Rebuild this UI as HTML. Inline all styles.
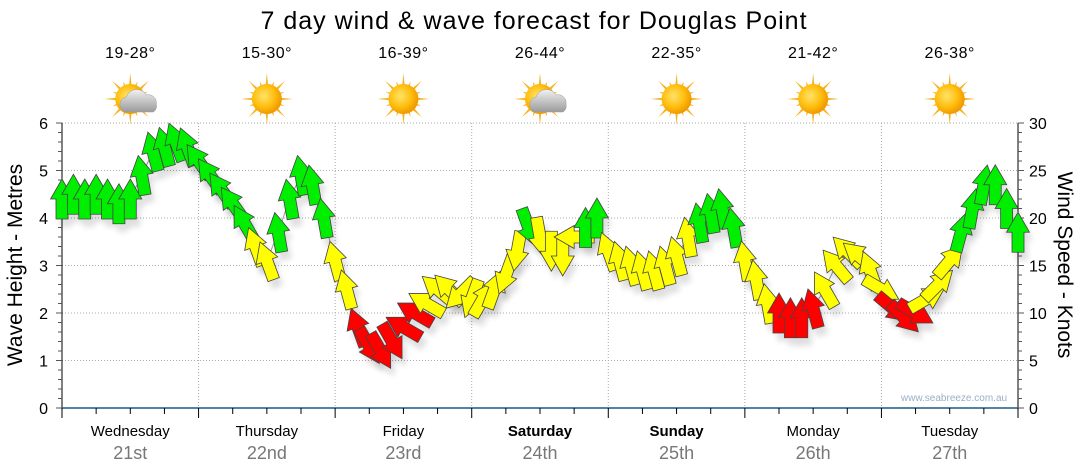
<!DOCTYPE html>
<html><head><meta charset="utf-8"><style>
body{margin:0;background:#fff;}
svg{display:block;font-family:"Liberation Sans",sans-serif;}
</style></head><body>
<svg id="chart" width="1080" height="475" viewBox="0 0 1080 475">
<defs>
<filter id="sh" x="-50%" y="-50%" width="200%" height="200%"><feGaussianBlur stdDeviation="3"/></filter>
<radialGradient id="sun" cx="40%" cy="40%" r="60%"><stop offset="0" stop-color="#ffe36a"/><stop offset="0.6" stop-color="#ffbf10"/><stop offset="1" stop-color="#f09a00"/></radialGradient>
<linearGradient id="cloud" x1="0" y1="0" x2="0" y2="1"><stop offset="0" stop-color="#f2f2f2"/><stop offset="1" stop-color="#9a9a9a"/></linearGradient>
</defs>
<text x="534" y="29" text-anchor="middle" font-size="25" letter-spacing="1" fill="#000">7 day wind &amp; wave forecast for Douglas Point</text>
<g id="grid"></g>
<g id="axes"></g>
<g id="icons"></g>
<g id="marks"></g>
<text x="954" y="401" text-anchor="middle" font-size="10" fill="#9ab0c4">www.seabreeze.com.au</text>
<text transform="translate(22,265) rotate(-90)" text-anchor="middle" font-size="21">Wave Height - Metres</text>
<text transform="translate(1058,265) rotate(90)" text-anchor="middle" font-size="21">Wind Speed - Knots</text>
</svg>
<script>
const days = ["Wednesday","Thursday","Friday","Saturday","Sunday","Monday","Tuesday"];
const dates = ["21st","22nd","23rd","24th","25th","26th","27th"];
const boldDays = [false,false,false,true,true,false,false];
const temps = ["19-28°","15-30°","16-39°","26-44°","22-35°","21-42°","26-38°"];
const cloudy = [true,false,false,true,false,false,false];
const waveTicks = [0,1,2,3,4,5,6];
const windTicks = [0,5,10,15,20,25,30];
const hours = [0,2,4,6,8,10,12,14,16,18,20,22,24,26,28,30,32,34,36,38,40,42,44,46,48,50,52,54,56,58,60,62,64,66,68,70,72,74,76,78,80,82,84,86,88,90,92,94,96,98,100,102,104,106,108,110,112,114,116,118,120,122,124,126,128,130,132,134,136,138,140,142,144,146,148,150,152,154,156,158,160,162,164,166,168];
const windSpeed = [22,22.5,22,22.5,22,21.5,22,24.5,27,27.5,28,27.5,26,24.5,23,21.5,19.5,17,15.5,18.5,22,24.5,23.5,20,15.5,12.5,8.5,6.5,6,7,8.5,10,11,12.5,12.5,12,11.5,11.5,12.5,14,16.5,19,18,16.5,16,18,19,20,16.5,15.5,15,14.5,14.5,15,16,18,19.5,20.5,21,19,15.5,13.5,11,10,9.5,9.5,10.5,12.5,15,16.5,16,14.5,12.5,10.5,9.5,10,11.5,13,15.5,18.5,21,23.5,23.5,21,18.5];
const windDir = [0,0,0,0,0,0,0,-10,-15,-15,-20,-20,-35,-35,-35,-35,-30,-20,-20,-10,-10,-10,-10,-10,-15,-15,-20,150,150,150,-60,-60,-60,-50,-45,225,200,30,20,200,190,160,170,180,180,270,0,0,-20,-15,-15,-15,-15,-15,-15,-10,-10,-10,-10,-10,-10,-10,-10,0,0,0,-15,-30,-40,-45,-50,-20,120,130,135,120,60,45,40,15,10,10,0,0,0];

const NS="http://www.w3.org/2000/svg";
const X0=62,X1=1018,Y0=408,Y1=123;
const xScale=h=>X0+(X1-X0)*h/168;
const waveY=v=>Y0-(Y0-Y1)*v/6;
const windY=v=>Y0-(Y0-Y1)*v/30;
function mk(tag,attrs,parent){const e=document.createElementNS(NS,tag);for(const k in attrs)e.setAttribute(k,attrs[k]);parent.appendChild(e);return e;}
const grid=document.getElementById('grid'),axes=document.getElementById('axes'),icons=document.getElementById('icons'),marks=document.getElementById('marks');

for(let i=1;i<waveTicks.length;i++){const y=waveY(waveTicks[i]);
 const g=mk('line',{x1:X0,x2:X1,y1:y,y2:y,stroke:'#aaa','stroke-dasharray':'1,2'},grid);
 
 }
for(let d=1;d<7;d++){const x=xScale(d*24);
 const g=mk('line',{x1:x,x2:x,y1:Y1,y2:Y0,stroke:'#aaa','stroke-dasharray':'1,2'},grid);
 
 }
mk('line',{x1:X0,x2:X0,y1:Y1,y2:Y0+1,stroke:'#000'},axes);
mk('line',{x1:X1,x2:X1,y1:Y1,y2:Y0+1,stroke:'#000'},axes);
mk('line',{x1:X0,x2:X1,y1:Y0,y2:Y0,stroke:'#1a5a86','stroke-width':1.5},axes);
for(let v=0;v<=30;v++){const y=Y0-(Y0-Y1)*v/30;
 mk('line',{x1:X0-(v%5==0?6:4),x2:X0,y1:y,y2:y,stroke:'#555'},axes);
 mk('line',{x1:X1,x2:X1+(v%5==0?6:4),y1:y,y2:y,stroke:'#555'},axes);}
waveTicks.forEach(v=>{const t=mk('text',{x:48,y:waveY(v)+6,'text-anchor':'end','font-size':16},axes);t.textContent=v;
 
 });
windTicks.forEach(v=>{const t=mk('text',{x:1029,y:windY(v)+6,'font-size':16},axes);t.textContent=v;
 
 });
for(let h=0;h<=168;h+=6){const x=xScale(h);mk('line',{x1:x,x2:x,y1:Y0,y2:Y0+(h%24==0?10:6),stroke:'#000'},axes);}
days.forEach((d,i)=>{const cx=xScale(i*24+12);
 const t=mk('text',{x:cx,y:436,'text-anchor':'middle','font-size':15,'font-weight':boldDays[i]?'bold':'normal'},axes);t.textContent=d;
 
 
 const t2=mk('text',{x:cx,y:459,'text-anchor':'middle','font-size':18,fill:'#777'},axes);t2.textContent=dates[i];
 
 
 const t3=mk('text',{x:cx,y:58,'text-anchor':'middle','font-size':16,'letter-spacing':0.5},icons);t3.textContent=temps[i];
 
 
 const g=mk('g',{transform:`translate(${cx},99)`},icons);
 
 
 for(let a=0;a<16;a++){const ang=a*Math.PI/8,l=a%2?19:26;
  mk('path',{d:`M${Math.cos(ang+0.12)*12},${Math.sin(ang+0.12)*12} L${Math.cos(ang)*l},${Math.sin(ang)*l} L${Math.cos(ang-0.12)*12},${Math.sin(ang-0.12)*12}Z`,fill:'#f5b322'},g);}
 mk('circle',{cx:0,cy:0,r:15,fill:'url(#sun)'},g);
 if(cloudy[i]){mk('path',{d:'M-6,13 a8,8 0 0 1 2,-15 a11,11 0 0 1 20,-2 a8,8 0 0 1 10,9 a7,7 0 0 1 -3,8 Z',fill:'url(#cloud)',stroke:'#999','stroke-width':0.5},g);}
});
let pts=hours.map((h,i)=>xScale(h)+','+windY(windSpeed[i])).join(' ');
const pl=mk('polyline',{points:pts,fill:'none',stroke:'#999','stroke-width':1},marks);


const arrow='M0,-20 L11.5,0 L6,0 L6,20 L-6,20 L-6,0 L-11.5,0 Z';
hours.forEach((h,i)=>{const x=xScale(h),y=windY(windSpeed[i]);
 mk('path',{d:arrow,transform:`translate(${x+4},${y+8}) rotate(${windDir[i]})`,fill:'#000',opacity:0.12,filter:'url(#sh)'},marks);});
hours.forEach((h,i)=>{const x=xScale(h),y=windY(windSpeed[i]),s=windSpeed[i];
 const col=s<11?'#ff0000':(s<18.3?'#ffff00':'#00ee00');
 const a=mk('path',{d:arrow,transform:`translate(${x},${y}) rotate(${windDir[i]})`,fill:col,stroke:'#444','stroke-width':0.8},marks);
 
 });
</script>
</body></html>
